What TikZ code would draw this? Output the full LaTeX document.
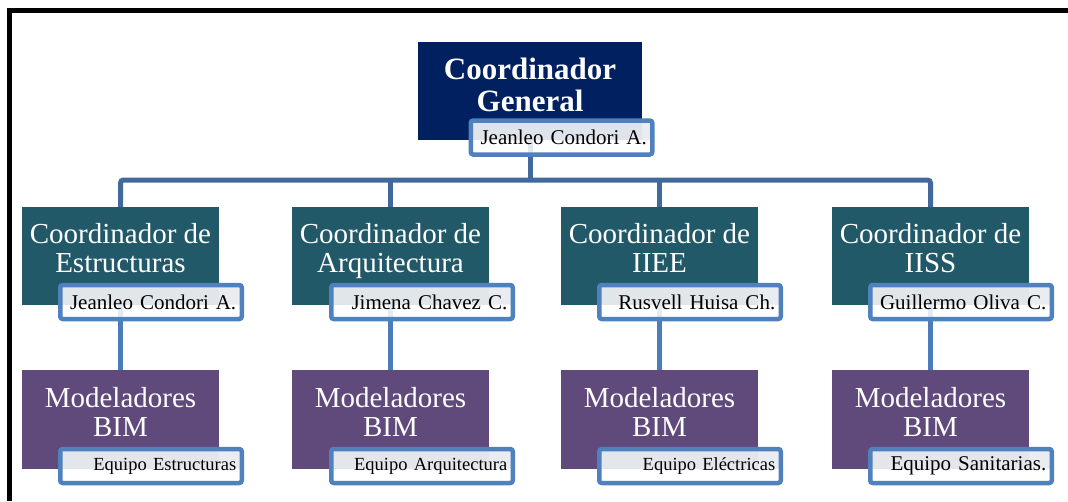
\documentclass[tikz,border=0pt]{standalone}
\usepackage{fontspec}
\setmainfont{Liberation Serif}
\usetikzlibrary{calc}
\definecolor{navy}{HTML}{002060}
\definecolor{tealbox}{HTML}{215968}
\definecolor{purplebox}{HTML}{604A7B}
\definecolor{nameblue}{HTML}{4F81BD}
\definecolor{busblue}{HTML}{42699B}
\definecolor{linkblue}{HTML}{4C7DBA}
\definecolor{namegray}{HTML}{E2E7EC}
\tikzset{
  box/.style={inner sep=0pt, outer sep=0pt, minimum width=197pt, minimum height=98pt, anchor=north west},
  topbox/.style={box, fill=navy, minimum width=224pt},
  coordbox/.style={box, fill=tealbox},
  modbox/.style={box, fill=purplebox, minimum height=99pt},
  boxtext/.style={text=white, align=center, inner sep=0pt, anchor=north, font=\fontsize{29}{29.5}\selectfont},
  toptext/.style={boxtext, font=\bfseries\fontsize{31}{32}\selectfont},
  namebox/.style={draw=nameblue, line width=4.5pt, rounded corners=2.5pt,
    minimum width=181.5pt, minimum height=34pt, inner xsep=5.5pt, inner ysep=0pt,
    text width=170.5pt, align=right, font=\fontsize{21}{21}\selectfont,
    fill=white, fill opacity=0.85, text opacity=1,
    path picture={\fill[namegray, opacity=0.75] (path picture bounding box.north west) rectangle
      ($(path picture bounding box.south east)!0.42!(path picture bounding box.north east)$);}},
  eqbox/.style={namebox, font=\fontsize{18.5}{18.5}\selectfont},
  busline/.style={draw=busblue, line width=5pt},
  linkline/.style={draw=linkblue, line width=4.5pt},
  frameline/.style={draw=black, line width=5pt},
}
\begin{document}
\begin{tikzpicture}[x=1pt, y=-1pt]
\useasboundingbox (0,0) rectangle (1068,501);
% frame
\coordinate (fbl) at (9.5,501);
\coordinate (ftl) at (9.5,10);
\coordinate (ftr) at (1068,10);
\draw[frameline] (fbl) -- (ftl) -- (ftr);

% top
\node[topbox] (cg) at (418,42) {};
\node[toptext] (cgT) at ([yshift=-15.5pt]cg.north) {Coordinador\\General};

% level 2
\node[coordbox] (ce) at (22,207) {};
\node[coordbox] (ca) at (292,207) {};
\node[coordbox] (ci) at (561,207) {};
\node[coordbox] (cs) at (832,207) {};
\node[boxtext] (ceT) at ([yshift=-16pt]ce.north) {Coordinador de\\Estructuras};
\node[boxtext] (caT) at ([yshift=-16pt]ca.north) {Coordinador de\\Arquitectura};
\node[boxtext] (ciT) at ([yshift=-16pt]ci.north) {Coordinador de\\IIEE};
\node[boxtext] (csT) at ([yshift=-16pt]cs.north) {Coordinador de\\IISS};

% level 3
\node[modbox] (me) at (22,370) {};
\node[modbox] (ma) at (292,370) {};
\node[modbox] (mi) at (561,370) {};
\node[modbox] (ms) at (832,370) {};
\node[boxtext] (meT) at ([yshift=-17pt]me.north) {Modeladores\\BIM};
\node[boxtext] (maT) at ([yshift=-17pt]ma.north) {Modeladores\\BIM};
\node[boxtext] (miT) at ([yshift=-17pt]mi.north) {Modeladores\\BIM};
\node[boxtext] (msT) at ([yshift=-17pt]ms.north) {Modeladores\\BIM};

% connectors
\coordinate (bus) at (0,180);
\draw[busline] (cg.south) -- (cg.south |- bus);
\draw[busline, rounded corners=3pt] (ce.north) -- (ce.north |- bus) -- (cs.north |- bus) -- (cs.north);
\draw[busline] (ca.north) -- (ca.north |- bus);
\draw[busline] (ci.north) -- (ci.north |- bus);
\draw[linkline] (ce.south) -- (me.north);
\draw[linkline] (ca.south) -- (ma.north);
\draw[linkline] (ci.south) -- (mi.north);
\draw[linkline] (cs.south) -- (ms.north);

% name boxes
\node[namebox] (cgN) at (561.5,137.5) {Jeanleo Condori A.};
\node[namebox] (ceN) at (151,302) {Jeanleo Condori A.};
\node[namebox] (caN) at (422,302) {Jimena Chavez C.};
\node[namebox] (ciN) at (690,302) {Rusvell Huisa Ch.};
\node[namebox] (csN) at (961,302) {Guillermo Oliva C.};
\node[eqbox] (meN) at (151,466) {Equipo Estructuras};
\node[eqbox] (maN) at (422,466) {Equipo Arquitectura};
\node[eqbox] (miN) at (690,466) {Equipo Eléctricas};
\node[namebox] (msN) at (961,466) {Equipo Sanitarias.};
\end{tikzpicture}
\end{document}
